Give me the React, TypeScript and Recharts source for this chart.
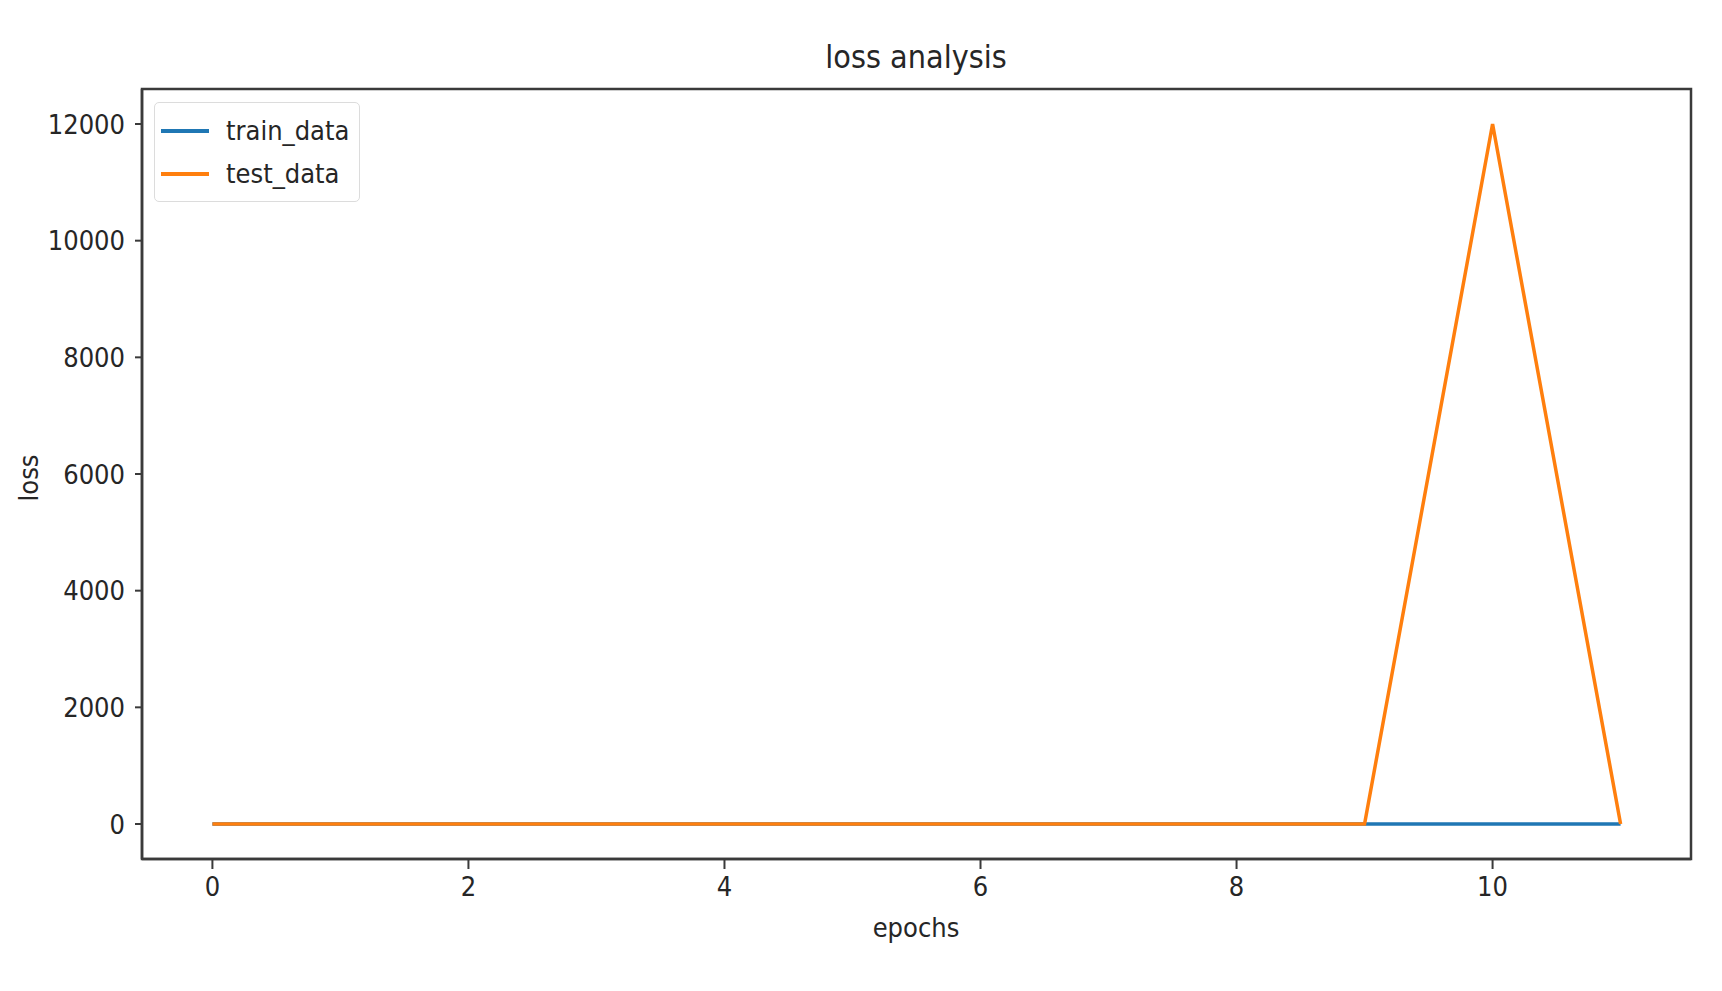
import React from 'react';
import { LineChart, Line, XAxis, YAxis, Legend, ReferenceArea } from 'recharts';

// epochs on the x axis
const epochs = [0, 1, 2, 3, 4, 5, 6, 7, 8, 9, 10, 11];
// losses (train stays near zero, test spikes at epoch 10)
const trainLoss = [0.69, 0.55, 0.48, 0.43, 0.4, 0.37, 0.35, 0.33, 0.32, 0.31, 0.3, 0.29];
const testLoss = [0.71, 0.6, 0.55, 0.52, 0.5, 0.49, 0.5, 0.52, 0.55, 0.6, 12000, 0.7];

const seriesNames = ['train_data', 'test_data'];
const xTicks = [0, 2, 4, 6, 8, 10];
const yTicks = [0, 2000, 4000, 6000, 8000, 10000, 12000];

const data = epochs.map((epoch, i) => ({
  epoch,
  train_data: trainLoss[i],
  test_data: testLoss[i],
}));

const X_DOMAIN: [number, number] = [-0.55, 11.55];
const Y_DOMAIN: [number, number] = [-600, 12600];

const FONT = '"DejaVu Sans Condensed", "Liberation Sans Narrow", "DejaVu Sans", sans-serif';
const TEXT = '#262626';
const SPINE = '#3a3a3a';

const COLORS: Record<string, string> = {
  train_data: '#1f77b4',
  test_data: '#ff7f0e',
};

function LegendBox({ payload }: any) {
  const items = [...(payload || [])].sort(
    (a: any, b: any) => seriesNames.indexOf(a.value) - seriesNames.indexOf(b.value)
  );
  return (
    <div
      style={{
        border: '1.5px solid #dcdcdc',
        borderRadius: 5,
        background: 'rgba(255,255,255,0.8)',
        padding: '6px 10px 6px 6px',
        fontFamily: FONT,
        fontSize: 27,
        color: TEXT,
      }}
    >
      {items.map((p: any) => (
        <div key={p.value} style={{ display: 'flex', alignItems: 'center', height: 43 }}>
          <span
            style={{
              display: 'inline-block',
              width: 48,
              height: 4,
              background: COLORS[p.value],
              marginRight: 17,
            }}
          />
          <span>{p.value}</span>
        </div>
      ))}
    </div>
  );
}

export default function App() {
  return (
    <div
      style={{
        position: 'absolute',
        left: 0,
        top: 0,
        width: 1722,
        height: 991,
        background: '#fff',
        overflow: 'hidden',
      }}
    >
      <div
        style={{
          position: 'absolute',
          left: 0,
          width: 1832,
          top: 38,
          textAlign: 'center',
          fontFamily: FONT,
          fontSize: 32,
          color: TEXT,
        }}
      >
        loss analysis
      </div>
      <div
        style={{
          position: 'absolute',
          left: 0,
          width: 1832,
          top: 912,
          textAlign: 'center',
          fontFamily: FONT,
          fontSize: 27,
          color: TEXT,
        }}
      >
        epochs
      </div>
      <div
        style={{
          position: 'absolute',
          left: 28,
          top: 478,
          transform: 'translate(-50%, -50%) rotate(-90deg)',
          fontFamily: FONT,
          fontSize: 27,
          color: TEXT,
          whiteSpace: 'nowrap',
        }}
      >
        loss
      </div>

      <LineChart
        width={1722}
        height={991}
        data={data}
        margin={{ top: 89, right: 31, bottom: 72, left: 42 }}
      >
        <XAxis
          dataKey="epoch"
          type="number"
          domain={X_DOMAIN}
          ticks={xTicks}
          allowDataOverflow
          height={60}
          tickSize={10}
          tickMargin={8}
          axisLine={{ stroke: SPINE, strokeWidth: 2.5 }}
          tickLine={{ stroke: SPINE, strokeWidth: 2 }}
          tick={{ fontSize: 27, fill: TEXT, fontFamily: FONT }}
        />
        <YAxis
          type="number"
          domain={Y_DOMAIN}
          ticks={yTicks}
          allowDataOverflow
          width={100}
          tickSize={7}
          tickMargin={10}
          axisLine={{ stroke: SPINE, strokeWidth: 2.5 }}
          tickLine={{ stroke: SPINE, strokeWidth: 2 }}
          tick={{ fontSize: 27, fill: TEXT, fontFamily: FONT }}
        />
        {/* plot frame (top and right spines) */}
        <ReferenceArea
          x1={X_DOMAIN[0]}
          x2={X_DOMAIN[1]}
          y1={Y_DOMAIN[0]}
          y2={Y_DOMAIN[1]}
          fill="none"
          fillOpacity={0}
          stroke={SPINE}
          strokeWidth={2.5}
          ifOverflow="extendDomain"
        />
        <Legend
          layout="horizontal"
          verticalAlign="middle"
          align="center"
          content={<LegendBox />}
          wrapperStyle={{ left: 154, top: 102, width: 'auto', height: 'auto' }}
        />
        <Line
          type="linear"
          dataKey="train_data"
          stroke={COLORS.train_data}
          strokeWidth={3.5}
          dot={false}
          isAnimationActive={false}
        />
        <Line
          type="linear"
          dataKey="test_data"
          stroke={COLORS.test_data}
          strokeWidth={3.5}
          dot={false}
          isAnimationActive={false}
        />
      </LineChart>
    </div>
  );
}
